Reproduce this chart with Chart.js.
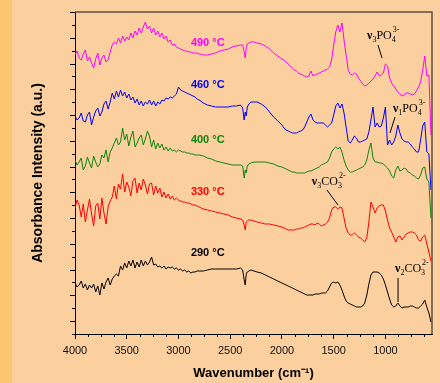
<!DOCTYPE html>
<html>
<head>
<meta charset="utf-8">
<script src="https://cdn.jsdelivr.net/npm/chart.js@4.4.1/dist/chart.umd.min.js"></script>
<style>
  html, body { margin: 0; padding: 0; background: #FCCF9F; }
</style>
</head>
<body>
<canvas id="ftir" width="440" height="383"></canvas>
<script>
// wavenumber grid, cm-1 (x axis is reversed)
const wavenumbers = [
  4000,3980,3960,3940,3920,3900,3880,3860,3840,3820,3800,3780,3760,3740,3720,3700,3680,3660,3640,3620,
  3600,3580,3560,3540,3520,3500,3480,3460,3440,3420,3400,3380,3360,3340,3320,3300,3280,3260,3240,3220,
  3200,3180,3160,3140,3120,3100,3080,3060,3040,3020,3000,2980,2960,2940,2920,2900,2880,2860,2840,2820,2800,
  2760,2720,2680,2640,2600,2560,2520,2480,2440,2400,2380,2365,2355,2345,2335,2320,2300,2270,2240,2200,
  2160,2120,2080,2040,2000,
  1980,1960,1940,1920,1900,1880,1860,1840,1820,1800,1780,1760,1740,1720,1700,1680,1660,1640,1620,1600,
  1580,1560,1540,1520,1500,1480,1460,1440,1420,1400,1380,1360,1340,1320,1300,1280,1260,1240,1220,1200,
  1180,1160,1140,1120,1100,1080,1060,1040,1020,1000,980,960,940,920,900,880,860,840,820,800,
  780,760,740,720,700,680,660,640,620,600,580,560
];

// absorbance (a.u., spectra already offset)
const abs490 = [
  279,283,276,274,280,284,273,277,271,266,275,281,269,276,279,272,274,282,289,292,
  290,296,291,298,293,297,294,301,296,303,299,306,301,307,312,305,308,301,306,299,
  303,297,301,295,298,292,294,289,290,287,286,285,284,283,283,282,282,281,281,281,280,
  279,279,280,281,283,284,285,287,288,289,289,282,276,286,290,291,292,292,291,290,
  288,285,281,278,275,
  274,272,270,268,266,264,263,261,260,259,258,257,258,263,258,259,260,261,262,263,
  264,265,267,274,289,302,309,302,311,294,279,264,260,259,261,260,256,253,250,248,
  249,251,253,255,258,262,258,259,261,270,268,256,251,248,245,242,240,238,239,241,
  241,240,239,240,243,247,252,264,278,258,259,199
];
const abs460 = [
  218,214,216,221,213,212,219,222,209,217,223,226,218,222,230,233,225,232,241,235,
  243,237,244,238,242,236,240,234,237,231,235,229,233,228,232,230,234,229,233,228,
  232,230,234,233,236,235,237,236,238,240,247,244,243,242,241,240,239,238,237,235,234,
  231,229,228,227,227,227,227,228,228,229,226,214,222,218,227,230,232,232,232,230,
  227,222,217,213,209,
  206,204,203,202,201,201,201,202,203,204,207,212,217,220,214,212,211,211,211,211,
  209,207,209,211,219,228,231,226,230,221,207,193,191,194,198,196,192,192,193,194,
  195,202,214,227,207,211,207,208,216,227,189,194,189,192,198,209,201,195,193,192,
  192,190,187,185,182,182,194,208,212,182,180,144
];
const abs400 = [
  174,169,172,176,164,168,177,171,166,178,172,167,170,179,176,184,172,182,186,191,
  196,189,192,206,194,200,188,197,203,187,191,196,199,189,195,203,198,187,194,185,
  191,186,190,184,187,183,186,183,184,182,184,183,182,182,181,181,180,180,179,179,179,
  178,176,175,173,172,171,170,169,169,169,168,156,164,161,168,170,171,172,172,172,
  172,171,170,168,167,
  166,165,164,163,162,162,161,161,161,161,161,162,163,163,164,165,166,167,169,170,
  171,172,176,182,185,187,185,187,182,174,168,164,162,162,163,164,165,166,167,169,
  174,184,191,176,172,172,171,171,170,168,166,163,158,156,164,168,163,164,166,165,
  162,161,159,158,156,155,159,166,167,155,152,116
];
const abs330 = [
  126,134,129,117,130,112,124,135,120,108,128,131,115,136,121,110,127,133,137,148,
  135,150,145,160,142,152,147,138,153,156,141,151,144,155,149,140,150,151,139,148,
  141,146,137,142,136,140,135,138,134,136,134,133,132,132,131,131,130,129,129,128,127,
  125,124,123,122,121,120,119,117,116,115,114,109,104,112,113,114,114,113,112,111,
  110,110,109,108,107,
  106,105,104,104,104,104,105,105,106,106,107,108,109,110,110,109,111,110,108,109,
  110,112,116,124,127,127,125,127,126,116,106,101,99,99,101,99,97,96,94,92,
  96,112,132,127,121,126,128,129,129,123,114,106,102,97,92,97,98,94,97,100,
  101,102,102,101,99,94,93,97,99,90,82,73
];
const abs290 = [
  51,47,49,53,46,50,44,49,46,50,42,48,39,51,45,52,56,49,55,58,
  60,58,68,64,71,66,73,68,74,66,72,67,74,68,73,69,72,77,69,70,
  67,68,66,68,65,67,66,67,65,66,64,65,63,64,62,63,61,62,62,63,63,
  63,64,65,65,65,65,65,65,65,66,64,54,49,60,62,63,64,63,62,61,
  59,57,55,53,51,
  50,49,48,47,46,45,44,43,42,41,40,39,39,39,39,40,40,40,41,41,
  41,43,47,51,52,51,52,49,44,38,33,31,30,29,28,27,27,27,28,31,
  39,50,59,62,62,62,61,59,55,49,42,35,29,27,28,31,28,26,27,27,
  27,28,28,27,26,26,28,30,34,27,21,12
];

const temperatures = ['490 °C', '460 °C', '400 °C', '330 °C', '290 °C'];
const xTickValues = [4000, 3500, 3000, 2500, 2000, 1500, 1000];

const seriesValues = [abs490, abs460, abs400, abs330, abs290];
const seriesColors = ['#ff00ff', '#0000ff', '#0a860a', '#ff0000', '#000000'];

// where the temperature captions sit (wavenumber, absorbance)
const captionAt = [[2717, 291], [2717, 249], [2717, 194], [2717, 142], [2717, 81]];

// vibration band labels with their leader lines
const bands = [
  { sub: '3', ion: 'PO', n: '4', charge: '3-', at: [1178, 295], line: [1072, 289, 1033, 276] },
  { sub: '1', ion: 'PO', n: '4', charge: '3-', at: [927, 222], line: [907, 217, 956, 201] },
  { sub: '3', ion: 'CO', n: '3', charge: '2-', at: [1711, 149], line: [1565, 144, 1459, 129] },
  { sub: '2', ion: 'CO', n: '3', charge: '2-', at: [907, 62], line: [878, 56, 878, 32] }
];

const SANS = 'Arial, "Liberation Sans", sans-serif';
const SERIF = '"Times New Roman", "Liberation Serif", serif';

function drawBand(ctx, x, y, b) {
  ctx.fillStyle = '#000';
  ctx.textAlign = 'left';
  ctx.textBaseline = 'alphabetic';
  ctx.font = 'bold 12px ' + SERIF;
  ctx.fillText('ν', x, y);
  let cx = x + ctx.measureText('ν').width;
  ctx.font = '8px ' + SERIF;
  ctx.fillText(b.sub, cx, y + 3);
  cx += ctx.measureText(b.sub).width;
  ctx.font = '12px ' + SERIF;
  ctx.fillText(b.ion, cx, y);
  cx += ctx.measureText(b.ion).width;
  ctx.font = '8px ' + SERIF;
  ctx.fillText(b.n, cx, y + 3);
  ctx.fillText(b.charge, cx + 1, y - 7);
}

const decor = {
  id: 'decor',
  beforeDraw(chart) {
    const ctx = chart.ctx;
    ctx.save();
    ctx.fillStyle = '#FCCF9F';
    ctx.fillRect(0, 0, chart.width, chart.height);
    ctx.fillStyle = '#FBC66F';
    ctx.fillRect(0, 0, 12, chart.height);
    ctx.restore();
  },
  afterDraw(chart) {
    const { ctx, chartArea: a, scales: { x, y } } = chart;
    ctx.save();
    // top and right frame
    ctx.strokeStyle = '#5e4e40';
    ctx.lineWidth = 1.5;
    ctx.beginPath();
    ctx.moveTo(a.left, a.top);
    ctx.lineTo(a.right, a.top);
    ctx.lineTo(a.right, a.bottom);
    ctx.stroke();

    // minor x ticks
    ctx.strokeStyle = '#000';
    ctx.lineWidth = 1;
    ctx.beginPath();
    for (let v = 3875; v > x.min; v -= 125) {
      if (v % 500 === 0) continue;
      const px = Math.round(x.getPixelForValue(v)) + 0.5;
      ctx.moveTo(px, a.bottom);
      ctx.lineTo(px, a.bottom + 3);
    }
    // y ticks
    for (let k = 0; k <= 25; k++) {
      const py = Math.round(y.getPixelForValue(k * y.max / 25)) + 0.5;
      const len = k % 2 ? 5 : 3;
      ctx.moveTo(a.left - len, py);
      ctx.lineTo(a.left, py);
    }
    ctx.stroke();

    // temperature captions
    ctx.font = 'bold 11px ' + SANS;
    ctx.textAlign = 'center';
    ctx.textBaseline = 'middle';
    temperatures.forEach((t, i) => {
      ctx.fillStyle = seriesColors[i];
      ctx.fillText(t, x.getPixelForValue(captionAt[i][0]), y.getPixelForValue(captionAt[i][1]));
    });

    // band labels
    ctx.strokeStyle = '#000';
    ctx.lineWidth = 1;
    bands.forEach(b => {
      drawBand(ctx, x.getPixelForValue(b.at[0]), y.getPixelForValue(b.at[1]), b);
      ctx.beginPath();
      ctx.moveTo(x.getPixelForValue(b.line[0]), y.getPixelForValue(b.line[1]));
      ctx.lineTo(x.getPixelForValue(b.line[2]), y.getPixelForValue(b.line[3]));
      ctx.stroke();
    });
    ctx.restore();
  }
};

const ctx = document.getElementById('ftir').getContext('2d');
const chart = new Chart(ctx, {
  type: 'line',
  data: {
    datasets: seriesValues.map((vals, i) => ({
      label: temperatures[i],
      data: wavenumbers.map((w, j) => ({ x: w, y: vals[j] })),
      borderColor: seriesColors[i],
      borderWidth: 1,
      pointRadius: 0,
      tension: 0,
      fill: false
    }))
  },
  options: {
    responsive: false,
    devicePixelRatio: 1,
    animation: false,
    layout: { padding: { top: 12, right: 8, left: 0, bottom: 0 } },
    plugins: { legend: { display: false }, tooltip: { enabled: false } },
    scales: {
      x: {
        type: 'linear',
        reverse: true,
        min: 550,
        max: 4000,
        afterBuildTicks: s => { s.ticks = xTickValues.map(v => ({ value: v })); },
        afterFit: s => { s.height = 49; },
        ticks: {
          color: '#111',
          font: { family: SANS, size: 11 },
          padding: 5,
          maxRotation: 0,
          autoSkip: false,
          callback: v => String(v)
        },
        grid: { display: true, drawOnChartArea: false, drawTicks: true, tickLength: 5, color: '#000', tickColor: '#000' },
        border: { display: true, color: '#000', width: 1 },
        title: {
          display: true,
          text: 'Wavenumber (cm⁻¹)',
          color: '#000',
          font: { family: SANS, size: 13, weight: 'bold' },
          padding: { top: 0, bottom: 2 }
        }
      },
      y: {
        min: 0,
        max: 322,
        afterFit: s => { s.width = 75; },
        ticks: { display: false },
        grid: { display: false },
        border: { display: true, color: '#000', width: 1 },
        title: {
          display: true,
          text: 'Absorbance Intensity (a.u.)',
          color: '#000',
          font: { family: SANS, size: 14, weight: 'bold' },
          padding: { top: 30, bottom: 0 }
        }
      }
    }
  },
  plugins: [decor]
});
</script>
</body>
</html>
